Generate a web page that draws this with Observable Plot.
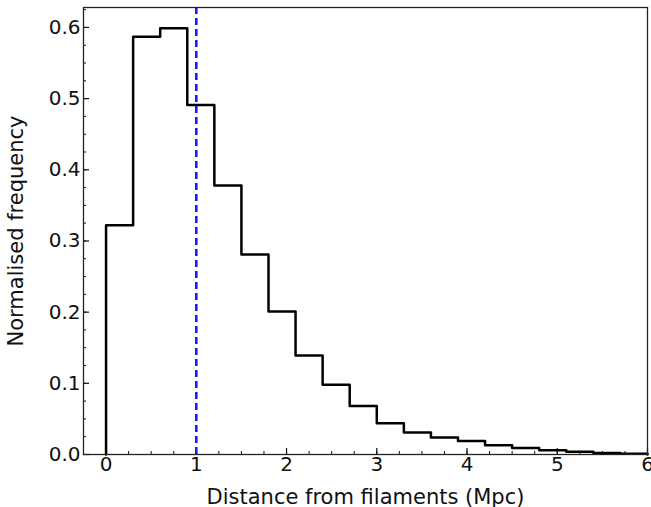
<!DOCTYPE html>
<html><head><meta charset="utf-8">
<script src="https://cdn.jsdelivr.net/npm/d3@7"></script>
<script src="https://cdn.jsdelivr.net/npm/@observablehq/plot@0.6"></script>
<style>
body{margin:0;background:#fff;}
#chart svg{font-family:"DejaVu Sans",sans-serif;}
</style></head>
<body><div id="chart"></div>
<script>
const binEdges = [0,0.3,0.6,0.9,1.2,1.5,1.8,2.1,2.4,2.7,3.0,3.3,3.6,3.9,4.2,4.5,4.8,5.1,5.4,5.7,6.0];
const freq = [0.322,0.587,0.599,0.491,0.378,0.281,0.201,0.139,0.098,0.068,0.044,0.031,0.024,0.019,0.013,0.009,0.006,0.004,0.002,0.001];
const threshold = [1];
const xTicks = [0,1,2,3,4,5,6];
const yTicks = [0,0.1,0.2,0.3,0.4,0.5,0.6];
const xMinor = d3.range(-0.25, 6.001, 0.25);
const yMinor = d3.range(0, 0.6251, 0.025);
const xLabel = "Distance from filaments (Mpc)";
const yLabel = "Normalised frequency";

const pts = [{x: binEdges[0], y: 0}];
freq.forEach((v, i) => pts.push({x: binEdges[i], y: v}));
pts.push({x: binEdges[binEdges.length - 1], y: 0});

const chart = Plot.plot({
  width: 651,
  height: 507,
  marginLeft: 83,
  marginRight: 4,
  marginTop: 7,
  marginBottom: 53,
  style: {fontFamily: "DejaVu Sans", fontSize: "20px", color: "#111", background: "white"},
  x: {domain: [-0.25, 6]},
  y: {domain: [0, 0.628]},
  marks: [
    Plot.axisX(xMinor, {tickSize: -3, text: null, label: null, strokeWidth: 1}),
    Plot.axisY(yMinor, {tickSize: -3, text: null, label: null, strokeWidth: 1}),
    Plot.axisX(xTicks, {tickSize: -6, tickPadding: 8, strokeWidth: 1.2, fontSize: 20,
      tickFormat: d => String(d), label: null}),
    Plot.axisY(yTicks, {tickSize: -6, tickPadding: 9, strokeWidth: 1.2, fontSize: 20,
      tickFormat: d => d.toFixed(1), label: null}),
    Plot.axisX([], {tickSize: 0, fontSize: 21, label: xLabel, labelAnchor: "center", labelArrow: "none", labelOffset: 49}),
    Plot.axisY([], {tickSize: 0, fontSize: 21, label: yLabel, labelAnchor: "center", labelArrow: "none", labelOffset: 75}),
    Plot.line(pts, {x: "x", y: "y", curve: "step-after", stroke: "black", strokeWidth: 2.5}),
    Plot.ruleX(threshold, {stroke: "#1a1aff", strokeWidth: 2.6, strokeDasharray: "7,4"}),
    Plot.frame({stroke: "#222", strokeWidth: 1.3})
  ]
});
document.getElementById("chart").append(chart);
</script>
</body></html>
